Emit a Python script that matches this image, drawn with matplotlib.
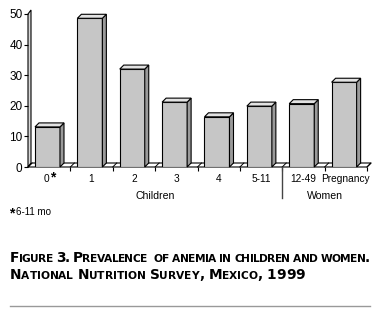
import matplotlib
matplotlib.use("Agg")
import matplotlib.pyplot as plt
from matplotlib.patches import Polygon

# data
categories = ["0", "1", "2", "3", "4", "5-11", "12-49", "Pregnancy"]
prevalence = [13.1, 48.6, 32.0, 21.2, 16.4, 19.9, 20.7, 27.7]
groups = [("Children", 0, 5), ("Women", 6, 7)]
yticks = [0, 10, 20, 30, 40, 50]

W, H = 378, 315
plt.rcParams['font.family'] = ['Liberation Sans', 'DejaVu Sans']
fig = plt.figure(figsize=(W / 100, H / 100), dpi=100)

# axes placed in pixel terms
x0, x1, ybase, ytop = 28, 367, 167, 14
ax = fig.add_axes([x0 / W, (H - ybase) / H, (x1 - x0) / W, (ybase - ytop) / H])
n = len(categories)
ax.set_xlim(-0.5, n - 0.5)
ax.set_ylim(0, 50)
for s in ax.spines.values():
    s.set_visible(False)

# depth of the pseudo 3d look (4 px right and up)
px_x = n / (x1 - x0)
px_y = 50 / (ybase - ytop)
dx, dy = 4 * px_x, 4 * px_y

front = "#c6c6c6"
side = "#9a9a9a"
topc = "#e2e2e2"

# left wall
wall = Polygon([(-0.5, 0), (-0.5, 50), (-0.5 + 3 * px_x, 50 + dy), (-0.5 + 3 * px_x, dy)],
               closed=True, facecolor="#d8d8d8", edgecolor="black", lw=0.8, clip_on=False, zorder=1)
ax.add_patch(wall)

# floor
floor = Polygon([(-0.5, 0), (n - 0.5, 0), (n - 0.5 + dx, dy), (-0.5 + dx, dy)],
                closed=True, facecolor="white", edgecolor="black", lw=0.8, clip_on=False, zorder=1)
ax.add_patch(floor)
for b in range(n + 1):
    ax.plot([b - 0.5, b - 0.5 + dx], [0, dy], color="black", lw=0.7, clip_on=False, zorder=1)

# bars
bw = 0.59
xs = [i - 0.04 for i in range(n)]
ax.bar(xs, prevalence, width=bw, color=front, edgecolor="black", lw=0.8, zorder=3)
for x, v in zip(xs, prevalence):
    l, r = x - bw / 2, x + bw / 2
    ax.add_patch(Polygon([(r, 0), (r + dx, dy), (r + dx, v + dy), (r, v)], closed=True,
                         facecolor=side, edgecolor="black", lw=0.8, zorder=3, clip_on=False))
    ax.add_patch(Polygon([(l, v), (r, v), (r + dx, v + dy), (l + dx, v + dy)], closed=True,
                         facecolor=topc, edgecolor="black", lw=0.8, zorder=3, clip_on=False))

# y axis
ax.set_yticks(yticks)
ax.tick_params(axis="y", length=3, width=0.8, pad=1, labelsize=8.5)

# x axis: ticks at boundaries, labels at centres
ax.set_xticks([i + 0.5 for i in range(n - 1)] + [n - 0.5])
ax.set_xticklabels([])
ax.tick_params(axis="x", which="major", length=3, width=0.8)
ax.set_xticks(range(1, n), minor=True)
ax.set_xticklabels(categories[1:], minor=True)
ax.tick_params(axis="x", which="minor", length=0, pad=5, labelsize=7.3)

# first label carries the footnote star
xt = ax.get_xaxis_transform()
ax.annotate(categories[0], xy=(0, 0), xycoords=xt, xytext=(-2.3, -5), textcoords="offset points",
            ha="center", va="top", fontsize=7.3)
ax.annotate("*", xy=(0, 0), xycoords=xt, xytext=(0.7, -2.4), textcoords="offset points",
            ha="left", va="top", fontsize=10, fontweight="bold")

# separator between groups
ax.plot([5.5, 5.5], [0, -0.2], transform=xt, color="#444444", lw=1.0, clip_on=False)
for name, a, b in groups:
    ax.text((a + b) / 2, -0.19, name, transform=xt, ha="center", va="center", fontsize=7.6)

# footnote
fig.text(9 / W, 1 - 213 / H, "*", fontsize=10, fontweight="bold", va="center")
fig.text(16 / W, 1 - 212 / H, "6-11 mo", fontsize=7, va="center")


# small caps caption, tracked out to the width of the reference line
def small_caps(x_px, y_px, text, width_px, big=9.9, small=7.7):
    renderer = fig.canvas.get_renderer()
    chars = []
    for ch in text:
        size = small if ch.islower() else big
        t = fig.text(0, 0, ch.upper(), fontsize=size, fontweight="bold",
                     family="DejaVu Sans", va="baseline", ha="left")
        w = t.get_window_extent(renderer).width if ch != " " else size * 0.32 * 100 / 72
        chars.append((t, w))
    natural = sum(w for _, w in chars)
    track = (width_px - natural) / (len(chars) - 1)
    x = x_px
    for t, w in chars:
        t.set_position((x / W, 1 - y_px / H))
        x += w + track


small_caps(10, 261.5, "Figure 3. Prevalence  of anemia in children and women.", 360)
small_caps(10, 279, "National Nutrition Survey, Mexico, 1999", 295)

# rule under caption
fig.add_artist(plt.Line2D([10 / W, 370 / W], [1 - 306 / H, 1 - 306 / H], color="#999999", lw=1.0))

fig.savefig("out.png", dpi=100)
